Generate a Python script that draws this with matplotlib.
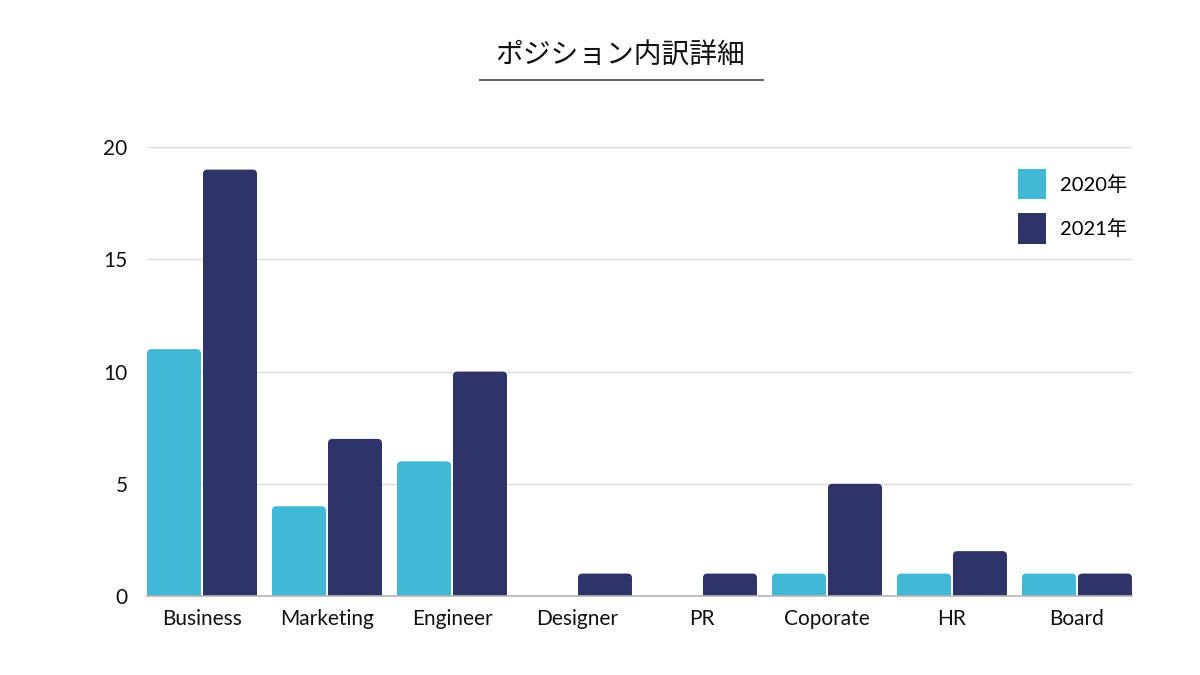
import matplotlib.pyplot as plt
from matplotlib.patches import FancyBboxPatch

plt.rcParams['font.family'] = ['Lato', 'Noto Sans CJK JP', 'DejaVu Sans']

categories = ['Business', 'Marketing', 'Engineer', 'Designer', 'PR', 'Coporate', 'HR', 'Board']
values_2020 = [11, 4, 6, 0, 0, 1, 1, 1]
values_2021 = [19, 7, 10, 1, 1, 5, 2, 1]
series_labels = ['2020年', '2021年']
colors = ['#41B8D5', '#2E3468']

fig = plt.figure(figsize=(12, 6.75), dpi=100)
ax = fig.add_axes([0.1225, 0.117, 0.8208, 0.665])

ax.set_xlim(-0.44, 7.44)
ax.set_ylim(0, 20)

bw = 0.432
gap = 0.008
rx = 0.035
aspect = (1 / 22.45) / (1 / 125)  # y units per px / x units per px

for vals, offset, col in [(values_2020, -gap - bw, colors[0]), (values_2021, gap, colors[1])]:
    for i, v in enumerate(vals):
        if v <= 0:
            continue
        p = FancyBboxPatch((i + offset, -0.5), bw, v + 0.5,
                           boxstyle=f'round,pad=0,rounding_size={rx}',
                           mutation_aspect=aspect, facecolor=col, edgecolor='none', zorder=3)
        ax.add_patch(p)

ax.set_yticks([0, 5, 10, 15, 20])
ax.grid(axis='y', color='#dcdcdc', linewidth=1, zorder=0)
ax.set_axisbelow(True)
for s in ['top', 'right', 'left']:
    ax.spines[s].set_visible(False)
ax.spines['bottom'].set_color('#b5b5b5')
ax.spines['bottom'].set_linewidth(1.2)
ax.spines['bottom'].set_zorder(4)

ax.set_xticks(range(len(categories)))
ax.set_xticklabels(categories)
ax.tick_params(axis='both', length=0, labelsize=15, colors='#111111')
ax.tick_params(axis='x', pad=9)
ax.tick_params(axis='y', pad=14)

# legend
handles = [FancyBboxPatch((0, 0), 1, 1, boxstyle='round,pad=0,rounding_size=0.1', facecolor=c, edgecolor='none')
           for c in colors]
ax.legend(handles, series_labels, loc='upper right', bbox_to_anchor=(1.013, 0.992), frameon=False,
          handlelength=1.4, handleheight=1.95, handletextpad=0.65, labelspacing=0.7,
          prop={'family': ['Lato', 'Noto Sans CJK JP'], 'size': 14.5})

# title with underline
fig.text(0.517, 0.918, 'ポジション内訳詳細', ha='center', va='center', fontsize=20,
         family=['Noto Sans CJK JP'], color='#111111')
fig.add_artist(plt.Line2D([0.4, 0.636], [0.881, 0.881], color='#666666', linewidth=1.5))

fig.savefig('out.png', dpi=100)
